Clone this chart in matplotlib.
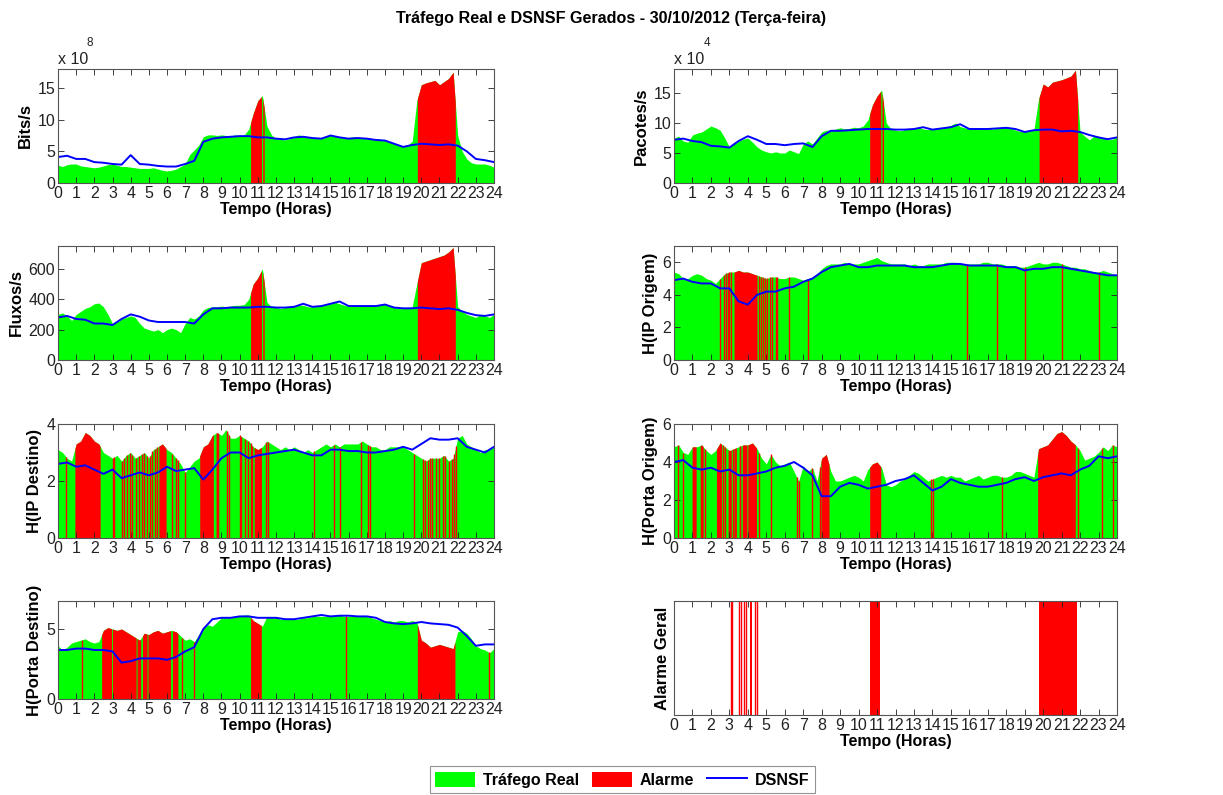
import numpy as np
import matplotlib
matplotlib.use('Agg')
import matplotlib.pyplot as plt
from matplotlib.patches import Patch
from matplotlib.lines import Line2D

plt.rcParams['font.family'] = ['Liberation Sans', 'DejaVu Sans']

# time axes: real traffic sampled every 15 min, DSNSF every 30 min
t_real = np.linspace(0, 24, 97)
t_dsnsf = np.linspace(0, 24, 49)

# ---- Bits/s (x 1e8)
bits_real = [2.8, 2.6, 2.9, 3.0, 3.0, 2.7, 2.6, 2.5, 2.4, 2.5, 2.7, 2.9,
             3.0, 2.8, 2.6, 2.6, 2.5, 2.4, 2.3, 2.3, 2.3, 2.4, 2.2, 2.0,
             1.9, 2.0, 2.2, 2.6, 3.0, 4.5, 5.2, 6.0, 7.3, 7.6, 7.6, 7.5,
             7.6, 7.5, 7.4, 7.6, 7.5, 7.6, 8.5, 11.0, 13.0, 13.8, 9.0, 7.6,
             7.0, 6.9, 6.8, 7.0, 7.3, 7.6, 7.4, 7.3, 7.2, 7.1, 7.2, 7.4,
             7.6, 7.4, 7.3, 7.1, 7.2, 7.3, 7.2, 7.0, 7.1, 6.9, 7.0, 6.9,
             6.8, 6.6, 6.2, 6.0, 5.8, 6.0, 6.6, 13.0, 15.5, 15.8, 16.0, 16.2,
             15.5, 16.0, 16.5, 17.5, 7.5, 5.0, 3.8, 3.2, 3.0, 3.0, 3.0, 2.8, 2.5]
bits_dsnsf = [4.1, 4.3, 3.8, 3.8, 3.3, 3.2, 3.0, 2.9, 4.4, 3.0, 2.9, 2.7,
              2.6, 2.6, 3.0, 3.5, 6.5, 7.0, 7.2, 7.3, 7.4, 7.4, 7.2, 7.2,
              7.0, 6.9, 7.2, 7.3, 7.1, 7.0, 7.5, 7.2, 7.0, 7.1, 7.0, 6.8,
              6.7, 6.2, 5.7, 6.0, 6.2, 6.1, 6.0, 6.1, 5.9, 5.0, 3.8, 3.6, 3.3]
bits_blocks = [(10.6, 11.2), (11.27, 11.35), (19.78, 21.87)]

# ---- Pacotes/s (x 1e4)
pkts_real = [7.5, 7.8, 7.0, 6.8, 8.0, 8.3, 8.5, 9.0, 9.5, 9.2, 8.8, 7.5,
             6.0, 6.5, 7.0, 7.3, 7.5, 6.8, 6.0, 5.5, 5.2, 5.0, 5.2, 5.0,
             5.0, 5.5, 5.2, 4.9, 6.5, 7.0, 6.5, 7.5, 8.5, 8.8, 8.8, 9.0,
             9.2, 9.0, 9.1, 9.3, 9.2, 9.5, 10.5, 13.0, 14.5, 15.5, 10.0, 9.0,
             8.8, 8.7, 8.9, 9.0, 9.0, 9.3, 9.0, 8.9, 9.0, 9.1, 9.2, 9.4,
             9.6, 10.0, 9.4, 9.2, 9.1, 9.0, 9.2, 9.0, 9.2, 9.0, 9.1, 9.3,
             9.4, 9.2, 8.8, 8.6, 8.6, 8.8, 8.9, 14.0, 16.5, 16.0, 16.8, 17.0,
             17.2, 17.5, 17.8, 18.8, 8.5, 7.8, 7.2, 7.8, 7.8, 7.5, 7.2, 7.3, 7.6]
pkts_dsnsf = [7.2, 7.4, 7.0, 6.8, 6.2, 6.1, 5.9, 7.0, 7.8, 7.2, 6.5, 6.5,
              6.3, 6.5, 6.6, 6.0, 7.8, 8.7, 8.7, 8.8, 8.9, 9.0, 9.0, 9.0,
              8.9, 8.9, 9.0, 9.3, 8.9, 9.1, 9.3, 9.8, 9.0, 9.0, 9.0, 9.1,
              9.2, 9.0, 8.5, 8.8, 8.9, 8.9, 8.6, 8.7, 8.5, 8.0, 7.6, 7.3, 7.6]

# ---- Fluxos/s
flows_real = [300, 310, 290, 260, 300, 320, 340, 350, 370, 375, 350, 300,
              240, 250, 270, 280, 290, 280, 240, 210, 200, 190, 200, 180,
              200, 210, 200, 180, 240, 280, 270, 290, 330, 345, 350, 350,
              355, 350, 355, 360, 360, 365, 400, 500, 540, 600, 380, 350,
              345, 340, 345, 350, 355, 360, 360, 350, 350, 355, 360, 365,
              370, 380, 370, 360, 355, 360, 365, 360, 355, 360, 360, 365,
              370, 355, 345, 340, 340, 345, 350, 500, 640, 650, 660, 670,
              680, 690, 710, 740, 350, 320, 300, 290, 280, 300, 290, 280, 300]
flows_dsnsf = [280, 290, 270, 265, 240, 240, 230, 270, 300, 285, 260, 250,
               250, 250, 250, 240, 300, 340, 340, 345, 345, 345, 350, 350,
               345, 345, 350, 370, 350, 355, 370, 385, 355, 355, 355, 355,
               365, 345, 340, 340, 345, 340, 335, 340, 330, 310, 295, 290, 300]

# ---- H(IP Origem)
ipsrc_real = [5.4, 5.3, 5.0, 5.0, 5.2, 5.3, 5.2, 5.0, 4.9, 4.7, 5.0, 5.3,
              5.4, 5.4, 5.5, 5.4, 5.4, 5.3, 5.2, 5.1, 5.0, 5.1, 5.1, 5.0,
              5.0, 5.1, 5.1, 5.0, 4.9, 5.0, 5.1, 5.3, 5.6, 5.8, 5.9, 5.9,
              5.9, 6.0, 5.9, 5.9, 5.9, 6.0, 6.1, 6.2, 6.3, 6.1, 6.0, 5.9,
              5.9, 5.9, 5.9, 5.8, 5.9, 5.8, 5.8, 5.9, 5.9, 5.9, 5.9, 6.0,
              6.0, 6.0, 5.9, 5.9, 5.9, 5.9, 5.9, 6.0, 6.0, 5.9, 5.9, 5.9,
              5.8, 5.8, 5.8, 5.7, 5.7, 5.8, 5.9, 6.0, 5.9, 5.9, 6.0, 6.0,
              5.9, 5.8, 5.7, 5.7, 5.6, 5.6, 5.5, 5.4, 5.4, 5.5, 5.4, 5.3, 5.2]
ipsrc_dsnsf = [4.9, 5.0, 4.8, 4.7, 4.7, 4.4, 4.4, 3.6, 3.4, 4.0, 4.2, 4.2,
               4.4, 4.5, 4.8, 5.0, 5.4, 5.7, 5.8, 5.9, 5.7, 5.7, 5.8, 5.8,
               5.8, 5.8, 5.7, 5.7, 5.7, 5.8, 5.9, 5.9, 5.8, 5.8, 5.8, 5.8,
               5.7, 5.7, 5.5, 5.6, 5.6, 5.7, 5.7, 5.6, 5.5, 5.4, 5.3, 5.2, 5.2]
ipsrc_blocks = [(3.25, 4.5)]
ipsrc_lines = [2.48, 2.7, 2.8, 2.9, 3.0, 3.1, 4.6, 4.7, 4.8, 4.95, 5.05, 5.2,
               5.3, 5.5, 5.56, 6.25, 7.25, 15.9, 17.5, 19.0, 21.0, 23.05]

# ---- H(IP Destino)
ipdst_real = [3.1, 3.0, 2.8, 2.7, 3.3, 3.4, 3.7, 3.6, 3.4, 3.3, 3.0, 2.9,
              2.8, 2.9, 2.7, 2.9, 3.0, 2.8, 2.9, 3.0, 2.8, 3.1, 3.2, 3.3,
              3.1, 3.0, 2.8, 2.6, 2.3, 2.5, 2.7, 2.8, 3.2, 3.3, 3.6, 3.7,
              3.6, 3.8, 3.5, 3.5, 3.6, 3.5, 3.4, 3.2, 3.1, 3.2, 3.4, 3.3,
              3.2, 3.1, 3.2, 3.1, 3.2, 3.1, 3.0, 3.1, 3.0, 3.1, 3.2, 3.3,
              3.2, 3.3, 3.2, 3.3, 3.3, 3.3, 3.3, 3.4, 3.3, 3.2, 3.2, 3.1,
              3.1, 3.2, 3.2, 3.2, 3.2, 3.1, 3.0, 2.9, 2.8, 2.7, 2.8, 2.8,
              2.8, 2.9, 2.7, 2.8, 3.5, 3.6, 3.3, 3.2, 3.1, 3.0, 3.1, 3.1, 3.2]
ipdst_dsnsf = [2.6, 2.65, 2.5, 2.55, 2.4, 2.25, 2.4, 2.1, 2.2, 2.3, 2.2, 2.3,
               2.5, 2.35, 2.4, 2.45, 2.05, 2.4, 2.8, 3.0, 3.0, 2.8, 2.9, 2.95,
               3.0, 3.05, 3.1, 3.0, 2.9, 2.9, 3.1, 3.1, 3.05, 3.05, 3.0, 3.0,
               3.05, 3.1, 3.2, 3.1, 3.3, 3.5, 3.45, 3.45, 3.5, 3.2, 3.1, 3.0, 3.2]
ipdst_blocks = [(0.93, 2.32), (5.55, 5.95), (7.8, 8.55), (8.7, 8.85), (10.8, 11.2)]
ipdst_lines = [0.45, 3.0, 3.1, 3.5, 3.65, 3.8, 3.95, 4.1, 4.3, 4.45, 4.6, 4.75,
               4.9, 5.05, 5.2, 5.35, 5.45, 6.3, 6.5, 6.6, 7.0, 9.3, 9.4, 10.0,
               10.1, 10.3, 10.45, 10.6, 10.7, 11.45, 11.55, 14.1, 15.2, 15.5,
               16.7, 17.05, 17.2, 19.6, 20.1, 20.2, 20.35, 20.5, 20.6, 20.8,
               21.0, 21.2, 21.3, 21.5, 21.7, 21.8, 21.9]

# ---- H(Porta Origem)
psrc_real = [4.8, 4.9, 4.5, 4.4, 4.8, 4.8, 4.9, 4.6, 4.4, 4.6, 5.0, 4.8,
             4.6, 4.7, 4.8, 4.9, 4.9, 5.0, 4.7, 4.2, 3.9, 4.4, 4.0, 3.8,
             3.9, 4.0, 3.5, 3.0, 3.8, 3.5, 3.7, 3.0, 4.2, 4.4, 3.5, 3.0,
             3.0, 3.1, 3.2, 3.3, 3.2, 3.0, 3.6, 3.9, 4.0, 3.7, 2.8, 2.7,
             2.8, 3.0, 3.1, 3.3, 3.5, 3.4, 3.2, 3.0, 3.1, 3.2, 3.3, 3.2,
             3.3, 3.2, 3.2, 3.0, 3.1, 3.2, 3.3, 3.1, 3.2, 3.3, 3.3, 3.2,
             3.2, 3.3, 3.5, 3.5, 3.4, 3.3, 3.2, 4.7, 4.8, 4.9, 5.2, 5.5,
             5.6, 5.4, 5.1, 4.9, 4.6, 4.1, 4.2, 4.3, 4.5, 4.8, 4.6, 4.9, 4.8]
psrc_dsnsf = [4.0, 4.1, 3.7, 3.6, 3.7, 3.5, 3.6, 3.3, 3.3, 3.4, 3.5, 3.7,
              3.8, 4.0, 3.7, 3.3, 2.2, 2.2, 2.7, 2.9, 2.8, 2.6, 2.7, 2.8,
              3.0, 3.1, 3.3, 2.9, 2.5, 2.7, 3.1, 2.9, 2.8, 2.7, 2.7, 2.8,
              2.9, 3.1, 3.2, 3.0, 3.2, 3.3, 3.4, 3.3, 3.6, 3.8, 4.3, 4.2, 4.3]
psrc_blocks = [(0.98, 1.2), (1.42, 1.58), (2.3, 2.57), (2.93, 3.1), (3.25, 3.38),
               (3.7, 3.95), (4.0, 4.47), (7.96, 8.4), (10.6, 11.2), (19.7, 21.74)]
psrc_lines = [0.2, 0.5, 1.7, 2.65, 2.75, 3.2, 3.55, 3.6, 4.6, 5.25, 6.65, 6.75,
              7.5, 7.9, 13.95, 14.05, 17.75, 21.9, 23.2, 23.8]

# ---- H(Porta Destino)
pdst_real = [3.8, 3.5, 3.7, 4.0, 4.1, 4.2, 4.3, 4.1, 4.0, 4.1, 4.9, 5.1,
             5.0, 4.9, 5.0, 4.8, 4.6, 4.4, 4.2, 4.7, 4.6, 4.8, 4.9, 4.7,
             4.8, 4.9, 4.8, 4.5, 4.2, 4.3, 4.1, 4.6, 5.1, 5.3, 5.2, 5.5,
             5.8, 5.8, 5.8, 5.9, 5.9, 6.0, 6.0, 5.6, 5.4, 5.2, 5.9, 5.8,
             5.8, 5.7, 5.7, 5.7, 5.7, 5.7, 5.8, 5.8, 5.9, 5.9, 5.9, 5.9,
             5.9, 6.0, 6.0, 5.9, 5.9, 5.9, 5.9, 5.9, 5.9, 5.8, 5.7, 5.6,
             5.5, 5.6, 5.5, 5.6, 5.6, 5.5, 5.6, 5.5, 4.2, 4.0, 3.7, 3.8,
             3.9, 3.8, 3.7, 3.6, 4.8, 4.9, 4.7, 4.3, 3.8, 3.6, 3.5, 3.3, 3.6]
pdst_dsnsf = [3.5, 3.5, 3.6, 3.6, 3.5, 3.5, 3.4, 2.6, 2.7, 2.9, 2.9, 2.9,
              2.8, 3.0, 3.4, 3.7, 5.0, 5.7, 5.8, 5.8, 5.9, 5.9, 5.8, 5.8,
              5.8, 5.7, 5.7, 5.8, 5.9, 6.0, 5.9, 5.95, 5.95, 5.9, 5.9, 5.8,
              5.5, 5.4, 5.35, 5.4, 5.5, 5.4, 5.35, 5.3, 5.1, 4.5, 3.8, 3.9, 3.9]
pdst_blocks = [(2.4, 2.95), (3.0, 4.3), (4.35, 4.55), (4.65, 4.9), (4.95, 6.2),
               (6.3, 6.6), (10.6, 11.19), (19.78, 21.85)]
pdst_lines = [1.3, 6.85, 7.5, 15.85, 23.7]

# ---- Alarme Geral
geral_blocks = [(4.1, 4.25), (10.6, 11.16), (19.79, 21.86)]
geral_lines = [3.07, 3.13, 3.53, 3.65, 3.78, 3.9, 4.41, 4.49]

GREEN = '#00ff00'
RED = '#ff0000'
BLUE = '#0000ff'
W, H = 1223, 795
FS = 11.5


def px_axes(fig, x0, y0, x1, y1):
    return fig.add_axes([x0 / W, 1 - y1 / H, (x1 - x0) / W, (y1 - y0) / H])


def style(ax, ylabel, ylim, yticks):
    ax.set_xlim(0, 24)
    ax.set_ylim(*ylim)
    ax.set_xticks(range(25))
    ax.set_xticklabels([str(h) for h in range(25)])
    ax.set_yticks(yticks)
    ax.tick_params(direction='in', top=True, right=True, length=4, width=0.6,
                   labelsize=FS, pad=2, colors='#222222')
    for s in ax.spines.values():
        s.set_color('#555555')
        s.set_linewidth(0.8)
    ax.set_xlabel('Tempo (Horas)', fontsize=FS, fontweight='bold', labelpad=1)
    ax.set_ylabel(ylabel, fontsize=12, fontweight='bold', labelpad=3)


def draw(ax, real, dsnsf, blocks, lines):
    real = np.asarray(real, dtype=float)
    ax.fill_between(t_real, 0, real, color=GREEN, lw=0)
    for a, b in blocks:
        inside = t_real[(t_real > a) & (t_real < b)]
        tt = np.concatenate([[a], inside, [b]])
        ax.fill_between(tt, 0, np.interp(tt, t_real, real), color=RED, lw=0)
    if lines:
        ax.vlines(lines, 0, np.interp(lines, t_real, real), color=RED, lw=1.0)
    if dsnsf is not None:
        ax.plot(t_dsnsf, dsnsf, color=BLUE, lw=1.4)


fig = plt.figure(figsize=(W / 100, H / 100), dpi=100)

ax1 = px_axes(fig, 58, 69, 494, 183)
draw(ax1, bits_real, bits_dsnsf, bits_blocks, [])
style(ax1, 'Bits/s', (0, 18), [0, 5, 10, 15])

ax2 = px_axes(fig, 674, 69, 1117, 183)
draw(ax2, pkts_real, pkts_dsnsf, bits_blocks, [])
style(ax2, 'Pacotes/s', (0, 19), [0, 5, 10, 15])

ax3 = px_axes(fig, 58, 246, 494, 360)
draw(ax3, flows_real, flows_dsnsf, bits_blocks, [])
style(ax3, 'Fluxos/s', (0, 750), [0, 200, 400, 600])

ax4 = px_axes(fig, 674, 246, 1117, 360)
draw(ax4, ipsrc_real, ipsrc_dsnsf, ipsrc_blocks, ipsrc_lines)
style(ax4, 'H(IP Origem)', (0, 7), [0, 2, 4, 6])

ax5 = px_axes(fig, 58, 424, 494, 538)
draw(ax5, ipdst_real, ipdst_dsnsf, ipdst_blocks, ipdst_lines)
style(ax5, 'H(IP Destino)', (0, 4), [0, 2, 4])

ax6 = px_axes(fig, 674, 424, 1117, 538)
draw(ax6, psrc_real, psrc_dsnsf, psrc_blocks, psrc_lines)
style(ax6, 'H(Porta Origem)', (0, 6), [0, 2, 4, 6])

ax7 = px_axes(fig, 58, 601, 494, 699)
draw(ax7, pdst_real, pdst_dsnsf, pdst_blocks, pdst_lines)
style(ax7, 'H(Porta Destino)', (0, 7), [0, 5])

ax8 = px_axes(fig, 674, 601, 1117, 715)
for a, b in geral_blocks:
    ax8.axvspan(a, b, color=RED, lw=0)
ax8.vlines(geral_lines, 0, 1, color=RED, lw=1.0)
style(ax8, 'Alarme Geral', (0, 1), [])

# MATLAB-like exponent labels
for ax, exp in ((ax1, '8'), (ax2, '4')):
    ax.text(0.0, 1.015, 'x 10', transform=ax.transAxes, fontsize=FS,
            ha='left', va='bottom', color='#222222')
    ax.text(0.066, 1.23, exp, transform=ax.transAxes, fontsize=8.5,
            ha='left', va='center', color='#222222')

fig.suptitle('Tráfego Real e DSNSF Gerados - 30/10/2012 (Terça-feira)',
             x=0.5, y=0.986, fontsize=11.6, fontweight='bold')

handles = [Patch(facecolor=GREEN, edgecolor='none'),
           Patch(facecolor=RED, edgecolor='none'),
           Line2D([], [], color=BLUE, lw=1.4)]
leg = fig.legend(handles, ['Tráfego Real', 'Alarme', 'DSNSF'], ncol=3,
                 loc='lower center', bbox_to_anchor=(0.509, -0.008),
                 frameon=True, fancybox=False,
                 prop={'weight': 'bold', 'size': FS},
                 handlelength=2.5, handleheight=1.1, columnspacing=0.8,
                 handletextpad=0.5, borderpad=0.35)
leg.get_frame().set_edgecolor('#777777')
leg.get_frame().set_linewidth(0.8)

fig.savefig('out.png', dpi=100)
